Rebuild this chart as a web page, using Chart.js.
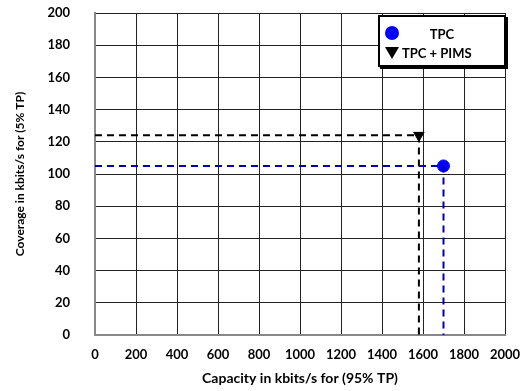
<!DOCTYPE html>
<html>
<head>
<meta charset="utf-8">
<script src="https://cdn.jsdelivr.net/npm/chart.js@4.4.1/dist/chart.umd.min.js"></script>
<style>
  html, body { margin: 0; padding: 0; background: #fff; }
  #wrap { width: 526px; height: 391px; position: relative; }
</style>
</head>
<body>
<div id="wrap"><canvas id="capChart"></canvas></div>
<script>
// capacity vs coverage, two schemes
const seriesNames = ['TPC', 'TPC + PIMS'];
const capacity = [1700, 1580];   // kbit/s at 95% TP
const coverage = [105, 124];     // kbit/s at 5% TP
const xTicks = [0, 200, 400, 600, 800, 1000, 1200, 1400, 1600, 1800, 2000];
const yTicks = [0, 20, 40, 60, 80, 100, 120, 140, 160, 180, 200];

const FONT = 'Lato, "Open Sans", sans-serif';

// dashed guide lines from each point back to the axes
function guide(i) {
  return [
    { x: 0, y: coverage[i] },
    { x: capacity[i], y: coverage[i] },
    { x: capacity[i], y: 0 }
  ];
}

// legend box drawn inside the plot area
const boxLegend = {
  id: 'boxLegend',
  afterDraw(chart) {
    const ctx = chart.ctx;
    const x = 378, y = 15, w = 126, h = 50;
    ctx.save();
    ctx.fillStyle = '#fff';
    ctx.fillRect(x, y, w, h);
    ctx.strokeStyle = '#000';
    ctx.lineWidth = 2;
    ctx.strokeRect(x + 1, y + 1, w, h);
    ctx.beginPath();
    ctx.moveTo(x + w + 3, y + 2);
    ctx.lineTo(x + w + 3, y + h + 3);
    ctx.lineTo(x + 2, y + h + 3);
    ctx.stroke();

    // circle
    ctx.fillStyle = '#0000ff';
    ctx.beginPath();
    ctx.arc(x + 14, y + 18, 7, 0, Math.PI * 2);
    ctx.fill();
    // down triangle
    ctx.fillStyle = '#000';
    ctx.beginPath();
    ctx.moveTo(x + 7, y + 32);
    ctx.lineTo(x + 21, y + 32);
    ctx.lineTo(x + 14, y + 44);
    ctx.closePath();
    ctx.fill();

    ctx.font = 'bold 13px ' + FONT;
    ctx.textBaseline = 'middle';
    ctx.textAlign = 'center';
    ctx.fillText(seriesNames[0], x + 64, y + 20);
    ctx.textAlign = 'left';
    ctx.fillText(seriesNames[1], x + 24, y + 39);
    ctx.restore();
  }
};

new Chart(document.getElementById('capChart'), {
  type: 'scatter',
  data: {
    datasets: [
      {
        label: 'guide TPC',
        data: guide(0),
        showLine: true,
        borderColor: '#0000b0',
        borderWidth: 2,
        borderDash: [7, 5],
        pointRadius: 0,
        fill: false
      },
      {
        label: 'guide TPC + PIMS',
        data: guide(1),
        showLine: true,
        borderColor: '#000',
        borderWidth: 2,
        borderDash: [7, 5],
        pointRadius: 0,
        fill: false
      },
      {
        label: seriesNames[0],
        data: [{ x: capacity[0], y: coverage[0] }],
        pointStyle: 'circle',
        pointRadius: 6,
        backgroundColor: '#0000ff',
        borderColor: '#0000ff'
      },
      {
        label: seriesNames[1],
        data: [{ x: capacity[1], y: coverage[1] }],
        pointStyle: 'triangle',
        rotation: 180,
        pointRadius: 6,
        backgroundColor: '#000',
        borderColor: '#000'
      }
    ]
  },
  plugins: [boxLegend],
  options: {
    responsive: true,
    maintainAspectRatio: false,
    animation: false,
    layout: { padding: 0 },
    plugins: {
      legend: { display: false },
      tooltip: { enabled: false }
    },
    scales: {
      x: {
        type: 'linear',
        min: 0,
        max: 2000,
        afterBuildTicks: (s) => { s.ticks = xTicks.map(v => ({ value: v })); },
        afterFit: (s) => { s.height = 56; s.paddingRight = 21; s.paddingLeft = 0; },
        grid: { color: '#222', lineWidth: 1, drawTicks: false },
        border: { color: '#888', width: 2 },
        ticks: { color: '#000', padding: 12, maxRotation: 0, autoSkip: false, callback: v => String(v), font: { family: FONT, size: 13, weight: 'bold' } },
        title: { display: true, text: 'Capacity in kbits/s for (95% TP)', color: '#000', padding: { top: 6 }, font: { family: FONT, size: 14, weight: 'bold' } }
      },
      y: {
        type: 'linear',
        min: 0,
        max: 200,
        afterBuildTicks: (s) => { s.ticks = yTicks.map(v => ({ value: v })); },
        afterFit: (s) => { s.width = 95; s.paddingTop = 13; s.paddingBottom = 0; },
        grid: { color: '#222', lineWidth: 1, drawTicks: false },
        border: { color: '#888', width: 2 },
        ticks: { color: '#000', padding: 25, autoSkip: false, callback: v => String(v), font: { family: FONT, size: 13, weight: 'bold' } },
        title: { display: true, text: 'Coverage in kbits/s for (5% TP)', color: '#000', padding: { top: 13, bottom: 4 }, font: { family: FONT, size: 12, weight: 'bold' } }
      }
    }
  }
});
</script>
</body>
</html>
